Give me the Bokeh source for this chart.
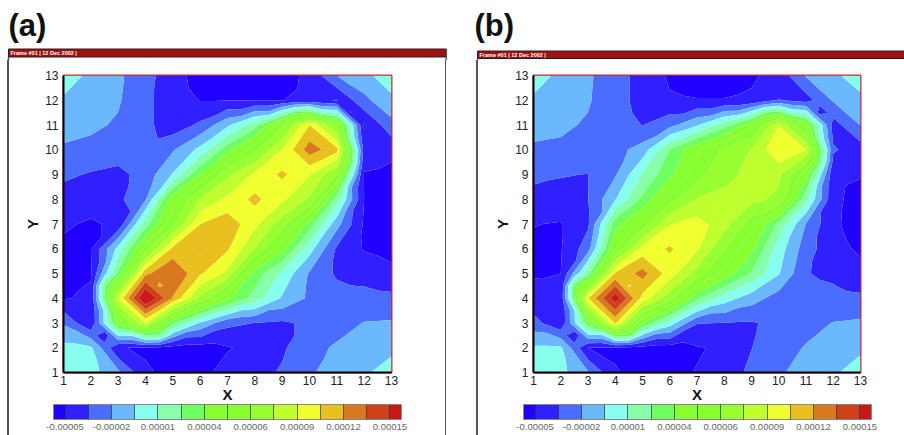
import numpy as np
from bokeh.embed import file_html
from bokeh.layouts import column, row
from bokeh.models import ColorBar, FixedTicker, Label, LinearColorMapper, Range1d
from bokeh.plotting import figure
from bokeh.resources import INLINE

# values in units of 1e-5, rows from y=13 down to y=1, columns x=1..13
grid_axis = list(range(1, 14))
panel_a_values = [
    [0.4, -1.2, -1.9, -3.0, -4.5, -5.5, -5.7, -5.7, -5.5, -4.7, -2.1, -1.2, 0.3],
    [-1.0, -1.4, -2.0, -3.2, -4.4, -5.05, -5.05, -5.03, -5.02, -4.6, -5.1, -2.5, -1.1],
    [-1.7, -1.9, -2.3, -3.2, -4.4, -3.3, -1.0, 1.5, 6.0, 10.7, 6.0, -5.2, -2.6],
    [-2.3, -2.5, -2.8, -2.9, -2.3, -0.3, 3.0, 6.0, 9.3, 12.9, 11.2, -4.2, -4.7],
    [-3.3, -3.7, -4.0, -3.0, -0.6, 3.5, 7.5, 9.6, 11.0, 9.4, 6.5, -5.1, -5.3],
    [-4.2, -4.3, -3.9, -2.3, 4.5, 8.0, 9.6, 11.1, 9.6, 7.6, 1.5, -5.0, -5.6],
    [-4.8, -5.2, -4.7, 1.5, 6.0, 10.7, 11.6, 9.7, 7.0, 3.0, -1.6, -5.2, -5.7],
    [-5.3, -5.2, -0.2, 5.5, 11.1, 12.2, 10.9, 7.8, 4.0, -0.1, -3.8, -5.1, -5.4],
    [-5.3, -5.1, 2.5, 11.76, 13.65, 10.9, 8.9, 3.0, 0.4, -2.3, -3.8, -4.2, -4.7],
    [-5.1, -4.8, 9.3, 17.0, 12.0, 7.4, 4.0, 1.5, -0.9, -2.4, -2.9, -3.0, -3.2],
    [-2.3, -4.9, 4.0, 9.3, 2.5, -0.9, -3.2, -3.6, -3.8, -3.3, -2.6, -2.1, -2.0],
    [-0.3, -0.5, -4.9, -5.2, -5.5, -5.6, -5.1, -4.6, -3.8, -2.5, -2.0, -1.5, -1.2],
    [0.4, -0.2, -1.8, -4.8, -5.4, -5.4, -4.5, -4.1, -3.4, -2.3, -1.6, -1.0, 0.2],
]
panel_b_values = [
    [0.4, -1.3, -1.9, -3.1, -4.0, -5.2, -5.5, -5.5, -5.2, -4.5, -2.0, -1.1, 0.3],
    [-1.1, -1.4, -2.0, -3.1, -4.0, -4.85, -4.95, -4.95, -4.8, -3.5, -4.2, -2.0, -1.2],
    [-1.8, -1.9, -2.3, -3.0, -3.6, -2.6, -0.9, 1.5, 4.5, 9.24, 4.5, -4.2, -2.1],
    [-2.3, -2.4, -2.5, -2.7, -1.5, 2.2, 4.8, 6.7, 7.93, 10.5, 9.3, -3.4, -4.3],
    [-3.2, -3.5, -3.6, -2.3, 0.8, 3.2, 5.8, 7.5, 8.2, 8.17, 4.2, -4.6, -4.9],
    [-4.1, -4.0, -3.6, -0.8, 2.5, 5.8, 7.9, 8.2, 8.3, 7.5, 1.2, -4.7, -5.5],
    [-4.95, -5.1, -3.8, 3.0, 5.5, 9.2, 9.9, 8.5, 5.5, 1.8, -2.2, -4.8, -5.5],
    [-5.3, -5.1, -2.8, 5.0, 9.8, 10.9, 9.5, 6.5, 3.9, 0.0, -2.9, -4.6, -5.2],
    [-5.1, -5.0, 1.5, 10.9, 12.7, 10.0, 7.3, 4.5, 2.0, -0.6, -3.5, -3.9, -4.6],
    [-4.6, -4.7, 10.6, 16.0, 10.2, 7.0, 2.5, 0.0, -1.5, -2.8, -3.0, -3.1, -3.3],
    [-3.0, -4.8, 3.0, 10.9, 3.5, 0.0, -3.5, -3.6, -3.7, -3.2, -2.6, -2.1, -1.9],
    [-0.5, -0.5, -5.0, -5.2, -5.5, -5.6, -5.1, -4.8, -3.6, -2.7, -2.05, -1.5, -1.1],
    [0.4, -0.3, -2.0, -4.9, -5.4, -5.3, -4.95, -4.2, -3.3, -2.3, -1.7, -1.0, 0.2],
]
band_colors = ["#2000ff", "#3020ff", "#4a6cff", "#6cb8ff", "#88ffee", "#88ffaa", "#70ff60", "#88ff30",
               "#88ff30", "#99ff30", "#bfff2e", "#f0ff30", "#e8c020", "#d87820", "#d04018", "#c81818"]
level_count = 15
level_low, level_high = -5.0, 15.0
level_labels = ["-0.00005", "-0.00002", "0.00001", "0.00004", "0.00006", "0.00009", "0.00012", "0.00015"]
frame_caption = "Frame #01 | 12 Dec 2002 |"
FONT = "Liberation Sans"
H = 435
HEAD = 60
FRAME_GRAY = "#555555"


def side_lines(xs):
    parts = [f"linear-gradient(90deg,transparent {x}px,{FRAME_GRAY} {x}px,{FRAME_GRAY} {x + 1.5}px,transparent {x + 1.5}px)"
             for x in xs]
    return {"background": ",".join(parts)}


def triangulated(z):
    """Mesh for the contouring: each grid cell is split along one diagonal, as in the reference's triangles."""
    n, m = z.shape
    fine = np.zeros((2 * n - 1, 2 * m - 1))
    fine[::2, ::2] = z
    fine[1::2, ::2] = (z[:-1, :] + z[1:, :]) / 2
    fine[::2, 1::2] = (z[:, :-1] + z[:, 1:]) / 2
    for j in range(n - 1):
        for i in range(m - 1):
            cx, cy = i + 1, j + 1
            if cx + cy <= 6 or cx + cy >= 20 or cx == cy:
                fine[2 * j + 1, 2 * i + 1] = (z[j + 1, i] + z[j, i + 1]) / 2
            else:
                fine[2 * j + 1, 2 * i + 1] = (z[j, i] + z[j + 1, i + 1]) / 2
    axis = np.linspace(grid_axis[0], grid_axis[-1], 2 * m - 1)
    return axis, fine


def panel(values, w, left, right, top, bottom, bar_top, lines):
    p = figure(width=w, height=H - HEAD, output_backend="svg", toolbar_location=None,
               x_range=Range1d(1, 13), y_range=Range1d(1, 13),
               min_border_left=left, min_border_right=right, min_border_top=top - HEAD, min_border_bottom=bottom,
               x_axis_label="X", y_axis_label="Y", border_fill_color=None, styles=side_lines(lines))
    levels = list(np.linspace(level_low, level_high, level_count))
    all_levels = [-8.0] + levels + [20.0]
    axis, fine = triangulated(np.array(values)[::-1])
    p.contour(axis, axis, fine, levels=all_levels, fill_color=band_colors, line_color=None)

    p.grid.visible = False
    p.outline_line_color = "#c8282a"
    p.outline_line_width = 2
    for ax in (p.xaxis[0], p.yaxis[0]):
        ax.ticker = FixedTicker(ticks=grid_axis)
        ax.major_tick_line_color = None
        ax.minor_tick_line_color = None
        ax.major_tick_out = 0
        ax.major_tick_in = 0
        ax.axis_line_color = "#000000"
        ax.axis_line_width = 2
        ax.major_label_text_font = FONT
        ax.major_label_text_font_size = "12px"
        ax.major_label_text_color = "#222222"
        ax.axis_label_text_font = FONT
        ax.axis_label_text_font_style = "bold"
        ax.axis_label_text_font_size = "15px"
        ax.axis_label_text_color = "#111111"
    p.xaxis[0].major_label_standoff = 3
    p.yaxis[0].major_label_standoff = 5
    p.xaxis[0].axis_label_standoff = -2
    p.yaxis[0].axis_label_standoff = 1

    half_units = [band_colors[0]] + [c for c in band_colors[1:-1] for _ in (0, 1)] + [band_colors[-1]]
    step = (level_high - level_low) / (level_count - 1)
    mapper = LinearColorMapper(palette=half_units, low=level_low - step / 2, high=level_high + step / 2)
    overrides = {float(lv): (level_labels[i // 2] if i % 2 == 0 else "") for i, lv in enumerate(levels)}
    fb = H - bottom
    cb = ColorBar(color_mapper=mapper, orientation="horizontal", width=348, height=15, padding=0, margin=0,
                  location=(-10, -(bar_top - fb + 28)), ticker=FixedTicker(ticks=levels), major_label_overrides=overrides,
                  major_tick_in=15, major_tick_out=0, major_tick_line_color="#333333", major_tick_line_alpha=0.7,
                  minor_tick_line_color=None, bar_line_color="#888888", major_label_text_font=FONT,
                  major_label_text_font_size="9.5px", major_label_text_color="#666666", label_standoff=4,
                  background_fill_color=None, border_line_color=None)
    p.add_layout(cb, "center")
    return p


# header strip: panel tags and the title bars of the two frames, in page pixels
head = figure(width=904, height=HEAD, output_backend="svg", toolbar_location=None, min_border=0,
              x_range=Range1d(0, 904), y_range=Range1d(HEAD, 0), x_axis_type=None, y_axis_type=None,
              outline_line_color=None)
head.grid.visible = False
for x0, x1, y0, y1 in [(8, 445.7, 48.5, 56.5), (477, 1000, 50.5, 58)]:
    head.quad(left=[x0], right=[x1], top=[y0], bottom=[y1], fill_color="#a01010", line_color="#222222", line_width=1)
    head.segment(x0=[x0, x1], y0=[y1, y1], x1=[x0, x1], y1=[HEAD, HEAD], line_color=FRAME_GRAY, line_width=1.5)
for x, y, text, size, color, style in [
    (8, 42, "(a)", "31px", "#111111", "bold"),
    (474, 42, "(b)", "31px", "#111111", "bold"),
    (10, 55.5, frame_caption, "5.5px", "#ffffff", "bold"),
    (479, 57, frame_caption, "5.5px", "#ffffff", "bold"),
]:
    head.add_layout(Label(x=x, y=y, text=text, text_color=color, text_font=FONT, text_font_size=size,
                          text_font_style=style))

pa = panel(panel_a_values, 462, 63, 71, 74, 63, 404, [7.25, 445])
pb = panel(panel_b_values, 442, 71, 44, 75, 62, 405, [14.25])
open("out.html", "w").write(file_html(column(head, row(pa, pb)), INLINE))
